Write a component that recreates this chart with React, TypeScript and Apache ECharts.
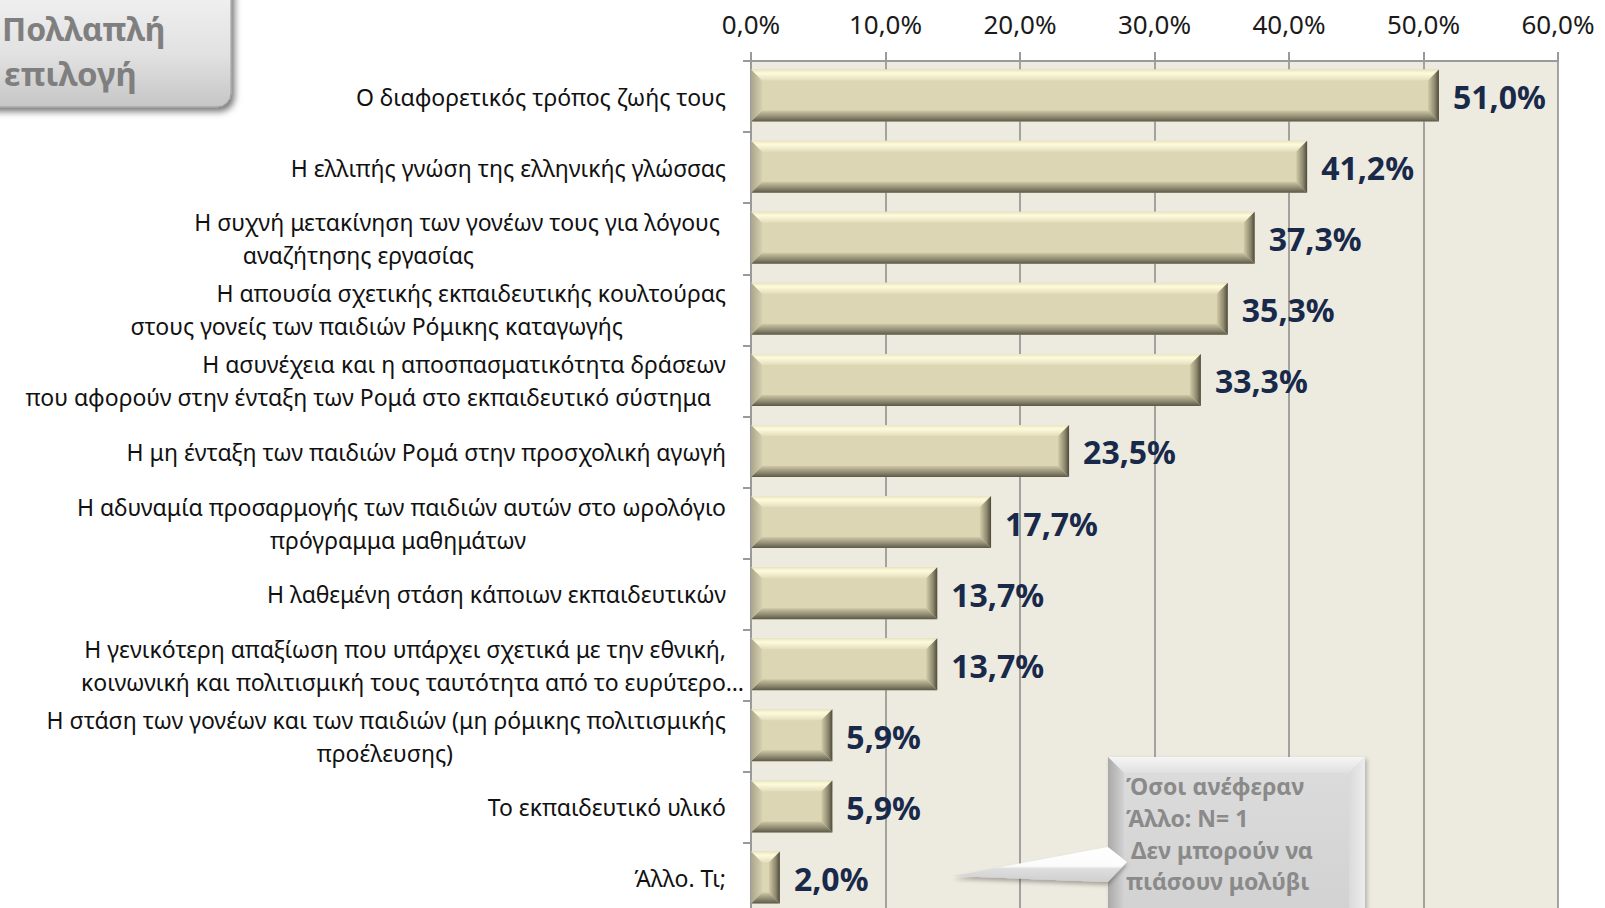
import React, { useEffect, useRef } from 'react';
import * as echarts from 'echarts';

const categories = [
  'Ο διαφορετικός τρόπος ζωής τους',
  'Η ελλιπής γνώση της ελληνικής γλώσσας',
  'Η συχνή μετακίνηση των γονέων τους για λόγους\nαναζήτησης εργασίας',
  'Η απουσία σχετικής εκπαιδευτικής κουλτούρας\nστους γονείς των παιδιών Ρόμικης καταγωγής',
  'Η ασυνέχεια και η αποσπασματικότητα δράσεων\nπου αφορούν στην ένταξη των Ρομά στο εκπαιδευτικό σύστημα',
  'Η μη ένταξη των παιδιών Ρομά στην προσχολική αγωγή',
  'Η αδυναμία προσαρμογής των παιδιών αυτών στο ωρολόγιο\nπρόγραμμα μαθημάτων',
  'Η λαθεμένη στάση κάποιων εκπαιδευτικών',
  'Η γενικότερη απαξίωση που υπάρχει σχετικά με την εθνική,\nκοινωνική και πολιτισμική τους ταυτότητα από το ευρύτερο…',
  'Η στάση των γονέων και των παιδιών (μη ρόμικης πολιτισμικής\nπροέλευσης)',
  'Το εκπαιδευτικό υλικό',
  'Άλλο. Τι;',
];
const values = [51.0, 41.2, 37.3, 35.3, 33.3, 23.5, 17.7, 13.7, 13.7, 5.9, 5.9, 2.0];
const axisMin = 0;
const axisMax = 60;
const axisStep = 10;
const badgeLines = ['Πολλαπλή', 'επιλογή'];
const noteLines = ['Όσοι ανέφεραν', 'Άλλο: N= 1', 'Δεν μπορούν να', 'πιάσουν μολύβι'];

const FONT = '"Noto Sans", "Open Sans", sans-serif';
const fmt = (v: number) => v.toFixed(1).replace('.', ',') + '%';

// right-edge shifts of each label line (layout only)
const linePads: number[][] = [
  [18], [18], [24, 270], [18, 121], [18, 33], [18], [18, 218], [18], [18, 0], [18, 291], [18], [18],
];

function lin(x2: number, y2: number, stops: [number, string][]) {
  return {
    type: 'linear', x: 0, y: 0, x2, y2,
    colorStops: stops.map(([offset, color]) => ({ offset, color })),
  };
}

function buildOption() {
  const rich: Record<string, any> = {};
  linePads.flat().forEach((p) => {
    rich['r' + p] = {
      fontSize: 23, fontFamily: FONT, color: '#111111', lineHeight: 33,
      align: 'right', padding: [0, p, 0, 0],
    };
  });

  const renderItem = (params: any, api: any) => {
    const v = api.value(0);
    const idx = api.value(1);
    const s = api.coord([0, idx]);
    const e = api.coord([v, idx]);
    const h = 52;
    const x0 = s[0];
    const x1 = e[0] + 2;
    const yc = s[1] - 1;
    const y0 = yc - h / 2;
    const y1 = yc + h / 2;
    const b = Math.min(11, (x1 - x0) / 2.2);
    return {
      type: 'group',
      children: [
        { type: 'rect', shape: { x: x0, y: y0, width: x1 - x0, height: h }, style: { fill: '#dcd6b4' } },
        {
          type: 'polygon',
          shape: { points: [[x0, y0], [x1, y0], [x1 - b, y0 + b], [x0 + b, y0 + b]] },
          style: { fill: lin(0, 1, [[0, '#e9e5c2'], [0.35, '#fefbdc'], [1, '#e3ddbc']]) },
        },
        {
          type: 'polygon',
          shape: { points: [[x0, y1], [x1, y1], [x1 - b, y1 - b], [x0 + b, y1 - b]] },
          style: { fill: lin(0, 1, [[0, '#cfc9a7'], [0.6, '#8d8870'], [1, '#5c5946']]) },
        },
        {
          type: 'polygon',
          shape: { points: [[x0, y0], [x0 + b, y0 + b], [x0 + b, y1 - b], [x0, y1]] },
          style: { fill: lin(1, 0, [[0, '#aaa58c'], [1, '#d6d0af']]) },
        },
        {
          type: 'polygon',
          shape: { points: [[x1, y0], [x1, y1], [x1 - b, y1 - b], [x1 - b, y0 + b]] },
          style: { fill: lin(1, 0, [[0, '#d2cca9'], [0.6, '#8f8a70'], [1, '#4d4a3a']]) },
        },
        {
          type: 'text',
          x: x1 + 14,
          y: yc + 1,
          style: {
            text: fmt(v), fill: '#18294a', fontSize: 32, fontWeight: 'bold', fontFamily: FONT,
            align: 'left', verticalAlign: 'middle',
          },
        },
      ],
    };
  };

  const bx0 = 1108, bx1 = 1365, by0 = 757, by1 = 940, bb = 16;

  return {
    animation: false,
    textStyle: { fontFamily: FONT },
    grid: {
      left: 751, right: 47, top: 61, bottom: -6,
      outerBoundsMode: 'none', containLabel: false,
      show: true, backgroundColor: '#edeae0', borderWidth: 0,
    },
    xAxis: {
      type: 'value', position: 'top', min: axisMin, max: axisMax, interval: axisStep,
      axisLine: { show: true, lineStyle: { color: '#9a9a9a', width: 2 } },
      axisTick: { show: true, length: 9, lineStyle: { color: '#9a9a9a', width: 2 } },
      splitLine: { show: true, lineStyle: { color: '#8a8a8a', width: 1.5 } },
      axisLabel: {
        formatter: (v: number) => fmt(v), fontSize: 26, color: '#1a1a1a', margin: 24,
        fontFamily: FONT,
      },
    },
    yAxis: {
      type: 'category', inverse: true, data: categories,
      axisLine: { show: true, lineStyle: { color: '#9a9a9a', width: 2 } },
      axisTick: { show: true, length: 8, lineStyle: { color: '#9a9a9a', width: 2 } },
      axisLabel: {
        margin: 7,
        formatter: (val: string, index: number) =>
          val.split('\n').map((ln, i) => `{r${linePads[index][i]}|${ln}}`).join('\n'),
        rich,
      },
    },
    series: [
      {
        type: 'custom',
        renderItem,
        clip: false,
        encode: { x: 0, y: 1 },
        data: values.map((v, i) => [v, i]),
        z: 5,
      },
    ],
    graphic: [
      {
        type: 'rect', z: 50,
        shape: { x: -30, y: -30, width: 261, height: 137, r: 14 },
        style: {
          fill: lin(0, 1, [[0, '#f6f6f6'], [0.6, '#e2e2e2'], [1, '#c6c6c6']]),
          stroke: '#9c9c9c', lineWidth: 1,
          shadowBlur: 7, shadowOffsetX: 3, shadowOffsetY: 4, shadowColor: 'rgba(0,0,0,0.55)',
        },
      },
      {
        type: 'text', z: 51, x: 2, y: 28,
        style: { text: badgeLines[0], fill: '#7f7f7f', fontSize: 32, fontWeight: 'bold', fontFamily: FONT, align: 'left', verticalAlign: 'middle' },
      },
      {
        type: 'text', z: 51, x: 4, y: 73,
        style: { text: badgeLines[1], fill: '#7f7f7f', fontSize: 33, fontWeight: 'bold', fontFamily: FONT, align: 'left', verticalAlign: 'middle' },
      },
      // callout box
      {
        type: 'rect', z: 50,
        shape: { x: bx0, y: by0, width: bx1 - bx0, height: by1 - by0 },
        style: { fill: lin(0, 1, [[0, '#dcdcdc'], [1, '#d0d0d0']]), shadowBlur: 4, shadowOffsetX: 2, shadowOffsetY: 2, shadowColor: 'rgba(0,0,0,0.25)' },
      },
      {
        type: 'polygon', z: 51,
        shape: { points: [[bx0, by0], [bx1, by0], [bx1 - bb, by0 + bb], [bx0 + bb, by0 + bb]] },
        style: { fill: lin(0, 1, [[0, '#f5f5f5'], [1, '#e0e0e0']]) },
      },
      {
        type: 'polygon', z: 51,
        shape: { points: [[bx0, by0], [bx0 + bb, by0 + bb], [bx0 + bb, by1 - bb], [bx0, by1]] },
        style: { fill: lin(1, 0, [[0, '#a9a9a9'], [1, '#d2d2d2']]) },
      },
      {
        type: 'polygon', z: 51,
        shape: { points: [[bx1, by0], [bx1, by1], [bx1 - bb, by1 - bb], [bx1 - bb, by0 + bb]] },
        style: { fill: lin(1, 0, [[0, '#dadada'], [1, '#ececec']]) },
      },
      // pointer wedge
      {
        type: 'polygon', z: 52,
        shape: { points: [[953, 876], [1108, 847], [1127, 862], [1108, 882]] },
        style: {
          fill: lin(0, 1, [[0, '#ffffff'], [0.55, '#fbfbfb'], [0.62, '#dedede'], [1, '#cfcfcf']]),
          shadowBlur: 4, shadowOffsetY: 3, shadowColor: 'rgba(0,0,0,0.3)',
        },
      },
      ...noteLines.map((t, i) => ({
        type: 'text', z: 53, x: i === 2 ? 1131 : 1126, y: 786 + i * 31.8,
        style: { text: t, fill: '#8a8a8a', fontSize: 23, fontWeight: 'bold', fontFamily: FONT, align: 'left', verticalAlign: 'middle' },
      })),
    ],
  };
}

export default function App() {
  const ref = useRef<HTMLDivElement>(null);
  useEffect(() => {
    if (!ref.current) return;
    const chart = echarts.init(ref.current, undefined, { renderer: 'svg' });
    chart.setOption(buildOption() as any);
    return () => chart.dispose();
  }, []);
  return (
    <div
      ref={ref}
      style={{ position: 'fixed', left: 0, top: 0, width: 1605, height: 908, background: '#ffffff' }}
    />
  );
}
